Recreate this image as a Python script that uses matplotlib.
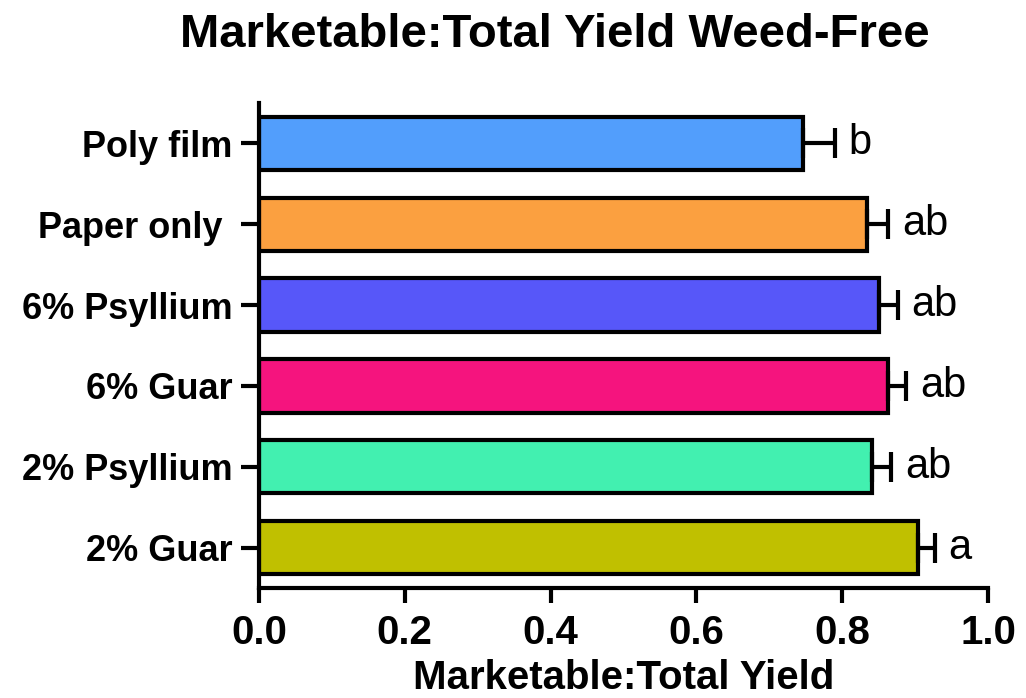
import matplotlib.pyplot as plt
import numpy as np

# Marketable:total yield ratio per mulch treatment (weed-free plots)
treatments = ["2% Guar", "2% Psyllium", "6% Guar", "6% Psyllium", "Paper only ", "Poly film"]
ratio = [0.904, 0.841, 0.863, 0.851, 0.834, 0.746]
sem = [0.023, 0.026, 0.025, 0.025, 0.029, 0.044]
letters = ["a", "ab", "ab", "ab", "ab", "b"]
colors = ["#C0C000", "#42F0B0", "#F5147E", "#5757F9", "#FBA040", "#529EFC"]
xticks = [0.0, 0.2, 0.4, 0.6, 0.8, 1.0]

plt.rcParams["font.family"] = ["Liberation Sans", "DejaVu Sans"]
narrow = ["Liberation Sans Narrow", "Liberation Sans"]

fig = plt.figure(figsize=(10.26, 6.98), dpi=100)
ax = fig.add_axes([0.2524, 0.1576, 0.7106, 0.6948])

y = np.arange(len(treatments))
ax.barh(y, ratio, height=0.66, color=colors, edgecolor="black", linewidth=3, zorder=2)
ax.errorbar(ratio, y, xerr=[np.zeros(len(sem)), sem], fmt="none", ecolor="black",
            elinewidth=3, capsize=11, capthick=3, zorder=3)

for yi, v, e, lab in zip(y, ratio, sem, letters):
    ax.text(v + e + 0.019, yi, lab, va="center", ha="left", fontsize=30)

ax.set_xlim(0, 1.0)
ax.set_ylim(-0.5, 5.5)
ax.set_yticks(y)
ax.set_yticklabels(treatments, fontsize=26, fontweight="bold")
ax.set_xticks(xticks)
ax.set_xticklabels([f"{t:.1f}" for t in xticks], fontsize=29, fontweight="bold", family=narrow)
ax.tick_params(axis="both", width=3, length=11, pad=8)
ax.tick_params(axis="y", length=13, pad=6)

for side in ["top", "right"]:
    ax.spines[side].set_visible(False)
for side in ["left", "bottom"]:
    ax.spines[side].set_linewidth(3)

ax.set_xlabel("Marketable:Total Yield", fontsize=29, fontweight="bold",
              family=narrow, labelpad=5)
fig.suptitle("Marketable:Total Yield Weed-Free", fontsize=34, fontweight="bold",
             x=0.541, y=0.982)

fig.savefig("out.png", dpi=100)
